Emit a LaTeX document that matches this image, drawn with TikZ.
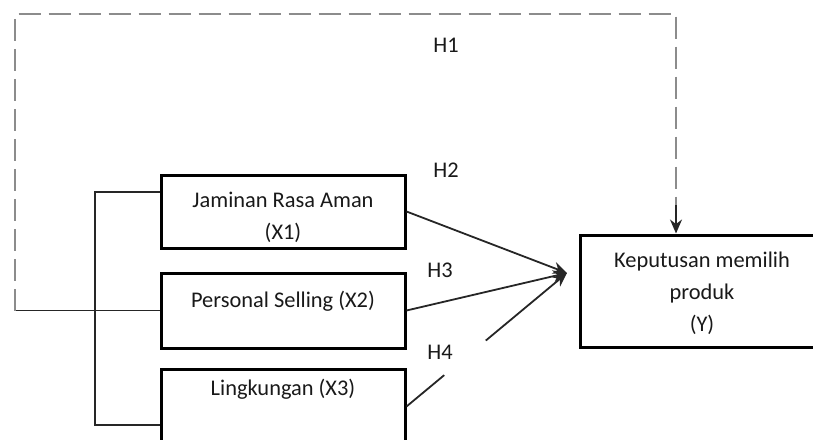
\documentclass[tikz,border=0pt]{standalone}
\usepackage{fontspec}
\setmainfont{Carlito}
\usetikzlibrary{arrows.meta,calc}

\begin{document}
\begin{tikzpicture}[x=0.5pt,y=-0.5pt]
        \tikzstyle{every node}+=[inner sep=0pt, font=\fontsize{11.2}{16}\selectfont, text=black!90]
        \tikzstyle{var}=[draw=black, line width=1.5pt, minimum width=122pt, align=center]
        \tikzstyle{link}=[draw=black!85, line width=0.9pt]
        \tikzstyle{hyp}=[draw=black!45, line width=1pt, dash pattern=on 11pt off 4pt]
        \tikzstyle{tipend}=[-{Stealth[length=7pt,width=6pt]}]
        \useasboundingbox (0,0) rectangle (813,439);
        % variables
        \node[var, minimum height=36.5pt, text height=27.5pt, text depth=0pt] (x1) at (283,211.5) {Jaminan Rasa Aman\\(X1)};
        \node[var, minimum height=37.5pt, text height=8.4pt, text depth=11.9pt] (x2) at (283,310.5) {Personal Selling (X2)};
        \node[var, minimum height=37.5pt, text height=8.4pt, text depth=19.9pt] (x3) at (283,406.5) {Lingkungan (X3)};
        \node[var, minimum height=56pt, text height=40pt, text depth=0pt] (y) at (702,291) {Keputusan memilih\\produk\\(Y)};
        % hypotheses
        \node (h1) at (446,45) {H1};
        \node (h2) at (446,170) {H2};
        \node (h3) at (440,270) {H3};
        \node (h4) at (440,352) {H4};
        % helper points
        \coordinate (bar) at (95,0);
        \coordinate (lft) at (15,14);
        \coordinate (rgt) at (676,14);
        \coordinate (rgtend) at (676,205);
        \coordinate (tip) at (567,273);
        \coordinate (x1in) at ([yshift=9.75pt]x1.west);
        \coordinate (x3in) at ([yshift=-9.25pt]x3.west);
        % bracket
        \draw[link] (x1in) -- (x1in -| bar) -- (x3in -| bar) -- (x3in);
        % H1
        \draw[link] (x2.west) -- (x2.west -| lft);
        \draw[hyp] (x2.west -| lft) -- (lft) -- (rgt) -- (rgtend);
        \draw[link, tipend] (rgtend) -- (y.north -| rgtend);
        % H2, H3, H4
        \draw[link, tipend] (x1.east) -- (tip);
        \draw[link, tipend] (x2.east) -- (tip);
        \draw[link] (x3.east) -- ($(x3.east)!0.235!(tip)$);
        \draw[link, tipend] ($(x3.east)!0.494!(tip)$) -- (tip);
\end{tikzpicture}
\end{document}
